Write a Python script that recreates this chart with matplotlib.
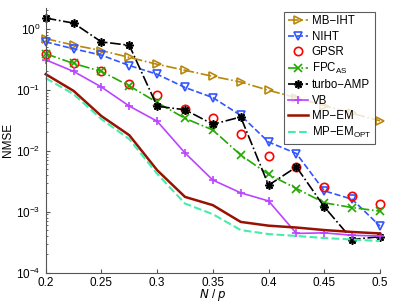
import matplotlib
matplotlib.use("Agg")
import matplotlib.pyplot as plt
import numpy as np

plt.rcParams['font.family'] = ['Liberation Sans', 'DejaVu Sans']
plt.rcParams['mathtext.default'] = 'regular'

x = [0.2, 0.225, 0.25, 0.275, 0.3, 0.325, 0.35, 0.375, 0.4, 0.425, 0.45, 0.475, 0.5]

mb_iht = [0.69, 0.54, 0.44, 0.34, 0.262, 0.209, 0.166, 0.134, 0.098, 0.074, 0.055, 0.041, 0.031]
niht = [0.61, 0.47, 0.37, 0.25, 0.18, 0.109, 0.0745, 0.038, 0.0139, 0.009, 0.0022, 0.0016, 0.00058]
gpsr = [0.39, 0.275, 0.2, 0.123, 0.081, 0.049, 0.035, 0.0187, 0.0081, 0.0054, 0.0025, 0.0018, 0.00133]
fpc = [0.39, 0.27, 0.2, 0.116, 0.062, 0.034, 0.0219, 0.0085, 0.0041, 0.0024, 0.0014, 0.00117, 0.00102]
turbo = [1.5, 1.24, 0.61, 0.537, 0.0537, 0.047, 0.0272, 0.0358, 0.00272, 0.00542, 0.0012, 0.00035, 0.00039]
vb = [0.31, 0.2, 0.111, 0.054, 0.0305, 0.0092, 0.0033, 0.00204, 0.0015, 0.00044, 0.00045, 0.00041, 0.0004]
mp_em = [0.18, 0.096, 0.037, 0.018, 0.0048, 0.00175, 0.00128, 0.00068, 0.00059, 0.00055, 0.0005, 0.000465, 0.00044]
mp_em_opt = [0.155, 0.085, 0.033, 0.0155, 0.0042, 0.00136, 0.00091, 0.0005, 0.00043, 0.0004, 0.00037, 0.00035, 0.00033]

labels = ['MB\u2212IHT', 'NIHT', 'GPSR', 'FPC$_{AS}$', 'turbo\u2212AMP', 'VB', 'MP\u2212EM', 'MP\u2212EM$_{OPT}$']
xticks = [0.2, 0.25, 0.3, 0.35, 0.4, 0.45, 0.5]

fig = plt.figure(figsize=(3.95, 3.05), dpi=100)
ax = fig.add_axes([0.1157, 0.106, 0.8463, 0.868])

kw = dict(clip_on=False, linewidth=1.2, markersize=6, markerfacecolor='none', markeredgewidth=1.2)
ax.plot(x, mb_iht, color='#B8860B', linestyle='-.', marker='>', label=labels[0], **kw)
ax.plot(x, niht, color='#3355FF', linestyle='--', marker='v', label=labels[1], **kw)
ax.plot(x, gpsr, color='red', linestyle='none', marker='o', label=labels[2], **kw)
ax.plot(x, fpc, color='#22AA00', linestyle='-.', marker='x', label=labels[3], **kw)
ax.plot(x, turbo, color='black', linestyle='-.', marker=(8, 2, 0), label=labels[4], **kw)
ax.plot(x, vb, color='#BB44FF', linestyle='-', marker='+', label=labels[5], **kw)
ax.plot(x, mp_em, color='#991100', linestyle='-', linewidth=1.8, label=labels[6], clip_on=False)
ax.plot(x, mp_em_opt, color='#44EEAA', linestyle='--', linewidth=1.5, label=labels[7], clip_on=False)

ax.set_yscale('log')
ax.set_xlim(0.2, 0.5)
ax.set_ylim(1e-4, 2.2)
ax.set_xticks(xticks)
ax.set_xticklabels([('%g' % t) for t in xticks])

gray = '#555555'
for s in ['top', 'right']:
    ax.spines[s].set_visible(False)
for s in ['left', 'bottom']:
    ax.spines[s].set_color(gray)
ax.tick_params(which='both', direction='in', colors=gray, labelcolor='black', labelsize=8.5)
ax.tick_params(axis='x', pad=3)
ax.tick_params(axis='y', pad=4)
ax.tick_params(which='major', length=3)
ax.tick_params(which='minor', length=1.5)

ax.set_xlabel('$\\it{N}$ / $\\it{p}$', fontsize=8.5, labelpad=-1)
ax.set_ylabel('NMSE', fontsize=8.5, labelpad=1)

leg = ax.legend(loc='upper right', bbox_to_anchor=(0.985, 0.985), fontsize=8.3, frameon=True,
                fancybox=False, edgecolor='#333333', handlelength=1.8, handletextpad=0.3,
                labelspacing=0.28, borderpad=0.3, borderaxespad=0.0)
leg.get_frame().set_linewidth(0.8)

fig.savefig('out.png', dpi=100)
